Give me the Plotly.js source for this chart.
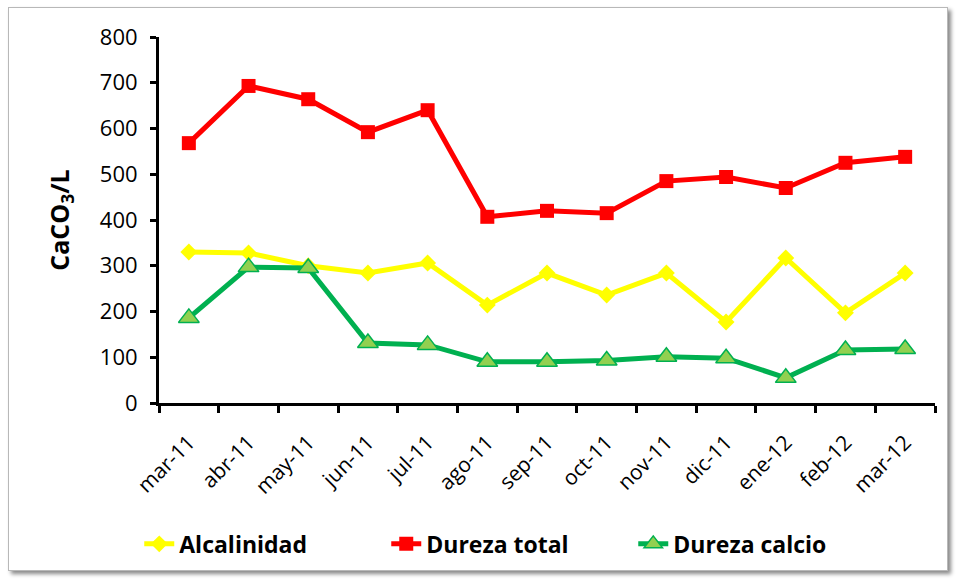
<!DOCTYPE html>
<html>
<head>
<meta charset="utf-8">
<script src="https://cdn.plot.ly/plotly-3.0.1.min.js"></script>
<style>
  html, body { margin: 0; padding: 0; background: #ffffff; }
  #frame { position: absolute; left: 8px; top: 7px; width: 938px; height: 562px;
           border: 1px solid #b8b8b8; box-shadow: 3px 3px 4px #8a8a8a; background: #fff; }
  #chart { position: absolute; left: 0; top: 0; width: 956px; height: 581px; }
</style>
</head>
<body>
<div id="frame"></div>
<div id="chart"></div>
<script>
const categories = ["mar-11","abr-11","may-11","jun-11","jul-11","ago-11","sep-11","oct-11","nov-11","dic-11","ene-12","feb-12","mar-12"];
const alcalinidad = [330, 328, 300, 284, 306, 214, 284, 236, 284, 177, 317, 197, 284];
const durezaTotal = [568, 693, 664, 592, 640, 407, 420, 415, 485, 494, 470, 525, 538];
const durezaCalcio = [186, 297, 295, 131, 127, 90, 90, 93, 101, 98, 55, 116, 118];
const yTicks = [0, 100, 200, 300, 400, 500, 600, 700, 800];

const fontFam = "Open Sans, Liberation Sans, sans-serif";

const traces = [
  { x: categories, y: alcalinidad, name: "Alcalinidad", type: "scatter", mode: "lines+markers",
    line: { color: "#FFFF00", width: 5 },
    marker: { symbol: "diamond", size: 13, color: "#FFFF00" } },
  { x: categories, y: durezaTotal, name: "Dureza total", type: "scatter", mode: "lines+markers",
    line: { color: "#FF0000", width: 5 },
    marker: { symbol: "square", size: 14, color: "#FF0000" } },
  { x: categories, y: durezaCalcio, name: "Dureza calcio", type: "scatter", mode: "lines+markers",
    line: { color: "#00B050", width: 5 },
    marker: { symbol: "triangle-up", size: 18, color: "#92D050", line: { color: "#00B050", width: 1.5 } } }
];

const layout = {
  width: 956, height: 581,
  paper_bgcolor: "rgba(0,0,0,0)", plot_bgcolor: "rgba(0,0,0,0)",
  margin: { l: 159, r: 21, t: 37, b: 178 },
  font: { family: fontFam, color: "#000", size: 21 },
  showlegend: true,
  legend: { orientation: "h", x: 0.452, xanchor: "center", y: -0.385, yanchor: "middle",
            font: { family: fontFam, size: 23, weight: "bold", color: "#000" },
            entrywidth: 202, entrywidthmode: "pixels",
            bgcolor: "rgba(0,0,0,0)" },
  xaxis: {
    type: "category", tickangle: -45, showgrid: false, zeroline: false,
    showline: true, linecolor: "#000", linewidth: 3,
    ticks: "outside", tickson: "boundaries", ticklen: 7, tickwidth: 3, tickcolor: "#000",
    ticklabelstandoff: 16,
    tickfont: { family: fontFam, size: 21, color: "#000" },
    range: [-0.5, 12.5]
  },
  yaxis: {
    range: [0, 800], tickvals: yTicks, ticktext: yTicks.map(String),
    showgrid: false, zeroline: false,
    showline: true, linecolor: "#000", linewidth: 3,
    ticks: "outside", ticklen: 6, tickwidth: 3, tickcolor: "#000",
    ticklabelstandoff: 8,
    tickfont: { family: fontFam, size: 22, color: "#000" },
    title: { text: "<b>CaCO<sub>3</sub>/L</b>", font: { family: fontFam, size: 25, color: "#000" }, standoff: 24 }
  }
};

Plotly.newPlot("chart", traces, layout, { displayModeBar: false, staticPlot: true });
</script>
</body>
</html>
